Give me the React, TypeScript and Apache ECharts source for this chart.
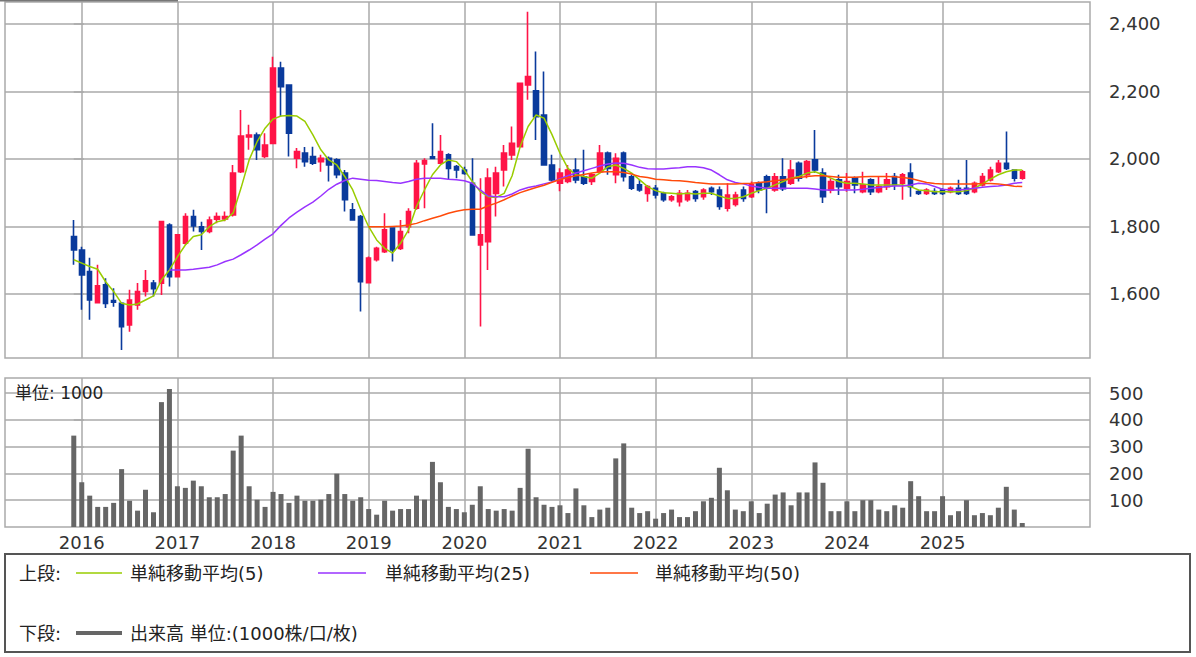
import React, { useEffect, useRef } from "react";
import * as echarts from "echarts";

// Monthly candles, index 0 = Dec 2015 ... index 119 = Nov 2025
const opens = [1770,1730,1666,1574,1627,1580,1572,1508,1567,1607,1632,1632,1804,1651,1750,1829,1799,1785,1821,1822,1834,1962,2065,2071,2007,2046,2269,2219,2002,2017,2007,1992,2002,1997,1958,1849,1829,1633,1701,1725,1795,1735,1799,1854,1985,2006,1987,2012,1977,1967,1928,1745,1755,1898,1967,2012,2036,2219,2202,2130,1982,1928,1933,1967,1947,1933,1962,2017,1953,2017,1947,1923,1898,1913,1898,1879,1873,1879,1903,1888,1913,1908,1854,1865,1908,1888,1928,1947,1908,1947,1928,1987,1953,1997,1958,1908,1938,1913,1943,1903,1938,1903,1918,1948,1928,1958,1903,1898,1903,1908,1903,1913,1913,1903,1923,1938,1962,1987,1967,1943];
const closes = [1730,1656,1582,1624,1572,1575,1503,1582,1607,1639,1615,1814,1651,1775,1829,1801,1785,1819,1829,1829,1958,2068,2071,2027,2041,2269,2214,2076,2022,1992,1987,2002,1982,1953,1879,1819,1636,1706,1735,1790,1730,1785,1844,1987,1995,2001,2022,1972,1967,1957,1775,1775,1943,1958,2017,2046,2224,2244,2125,1982,1938,1958,1967,1938,1928,1953,2017,1972,2002,1947,1913,1908,1918,1893,1879,1888,1898,1898,1883,1908,1903,1859,1893,1893,1883,1923,1908,1913,1947,1912,1967,1943,1992,1967,1888,1933,1918,1933,1923,1923,1903,1918,1938,1923,1953,1918,1898,1908,1898,1898,1913,1898,1898,1928,1948,1967,1987,1972,1943,1962];
const lows = [1686,1553,1523,1572,1558,1562,1434,1488,1553,1592,1592,1597,1622,1651,1745,1785,1730,1780,1809,1815,1829,1958,2027,1997,2002,2046,2125,2007,1972,1977,1982,1962,1933,1943,1844,1819,1548,1632,1696,1721,1696,1730,1780,1849,1854,2000,1987,1938,1943,1953,1775,1503,1671,1829,1918,1997,2036,2175,2056,1982,1933,1904,1928,1928,1923,1923,1962,1953,1928,1933,1908,1903,1873,1883,1873,1873,1859,1873,1873,1879,1893,1849,1844,1859,1873,1884,1898,1839,1903,1905,1923,1933,1943,1958,1869,1898,1893,1903,1898,1898,1893,1898,1908,1908,1879,1888,1893,1893,1893,1893,1898,1893,1893,1898,1918,1933,1958,1967,1933,1938];
const highs = [1819,1740,1707,1686,1646,1617,1575,1612,1632,1671,1641,1816,1809,1777,1839,1849,1814,1829,1841,1844,1982,2145,2101,2078,2076,2303,2288,2221,2032,2035,2036,2012,2007,2002,1967,1869,1834,1711,1740,1839,1797,1819,1854,1997,2002,2106,2071,2017,1982,1977,2002,1943,1972,1977,2041,2096,2226,2436,2318,2259,2012,1972,1982,2002,2027,1958,2041,2022,2017,2022,1953,1938,1923,1923,1903,1893,1908,1908,1908,1913,1918,1918,1928,1903,1918,1933,1933,1953,1958,2002,1997,1992,1997,2086,1972,1943,1953,1958,1948,1962,1943,1948,1958,1958,1958,1987,1908,1913,1913,1913,1918,1938,1997,1933,1958,1977,1997,2081,1967,1967];
const volumes = [341,167,117,75,75,90,216,98,61,139,55,466,515,152,146,173,152,111,111,123,285,341,152,102,75,131,123,90,117,98,98,102,123,199,123,98,111,67,46,98,61,67,67,117,102,243,167,75,67,55,83,152,67,61,67,61,146,292,111,83,75,81,52,144,81,37,65,72,256,312,72,52,59,31,52,65,37,37,59,96,109,221,137,65,59,96,52,87,121,129,81,129,129,241,165,59,59,96,59,100,100,65,59,81,72,171,115,59,59,115,44,59,100,44,52,44,72,150,65,15];
const ma5 = [1701,1691,1681,1673,1636,1607,1572,1567,1570,1582,1594,1641,1671,1710,1745,1770,1775,1799,1814,1819,1840,1915,1997,2051,2091,2118,2127,2129,2127,2111,2071,2027,1997,1982,1948,1908,1850,1799,1760,1735,1721,1750,1790,1859,1908,1953,1982,1997,1992,1967,1933,1903,1888,1886,1898,1950,2036,2096,2130,2121,2072,2017,1972,1953,1948,1943,1958,1977,1982,1972,1958,1938,1918,1906,1900,1898,1896,1898,1896,1898,1898,1890,1883,1883,1888,1898,1906,1913,1923,1933,1943,1948,1958,1962,1953,1943,1933,1928,1928,1926,1923,1923,1923,1923,1923,1918,1908,1906,1903,1903,1903,1903,1906,1913,1926,1940,1953,1962,1967,1967];
const ma25Start = 12;
const ma25 = [1671,1671,1671,1673,1676,1679,1686,1696,1703,1716,1730,1745,1762,1778,1803,1825,1842,1858,1872,1890,1910,1925,1936,1943,1940,1937,1936,1933,1930,1928,1933,1940,1943,1943,1943,1940,1938,1935,1928,1908,1890,1888,1888,1896,1908,1915,1920,1926,1932,1941,1950,1958,1965,1972,1979,1985,1988,1987,1982,1975,1971,1970,1970,1972,1974,1977,1977,1974,1967,1953,1938,1930,1926,1920,1916,1913,1913,1913,1913,1913,1913,1911,1908,1908,1908,1908,1908,1910,1913,1915,1918,1920,1920,1923,1928,1926,1918,1910,1908,1908,1910,1913,1916,1918,1920,1923,1928,1930];
const ma50Start = 37;
const ma50 = [1799,1799,1799,1800,1801,1804,1809,1817,1824,1831,1839,1845,1849,1851,1851,1861,1869,1879,1890,1900,1908,1915,1922,1931,1939,1945,1950,1954,1958,1961,1962,1962,1960,1955,1948,1945,1940,1938,1936,1935,1933,1930,1928,1926,1926,1926,1926,1927,1928,1930,1932,1935,1938,1941,1945,1948,1950,1950,1948,1946,1946,1946,1947,1948,1948,1948,1947,1945,1942,1936,1930,1927,1926,1926,1926,1926,1926,1927,1927,1926,1923,1919,1918];
const yearLabels = ["2016","2017","2018","2019","2020","2021","2022","2023","2024","2025"];
const januaryIndex = [1,13,25,37,49,61,73,85,97,109];
const priceTicks = [1600,1800,2000,2200,2400];
const volumeTicks = [100,200,300,400,500];

const UP = "#ff1447";
const DOWN = "#0a3a9c";
const GREEN = "#99cc00";
const PURPLE = "#9933ff";
const ORANGE = "#ff4a0a";
const GRID = "#aaaaaa";
const FONT = "DejaVu Sans, Noto Sans CJK JP, sans-serif";
const XMIN = -8.63;
const XMAX = 127.5;

function fmtThousands(v: number) {
  return String(v).replace(/\B(?=(\d{3})+(?!\d))/g, ",");
}

export default function App() {
  const ref = useRef<HTMLDivElement>(null);
  useEffect(() => {
    if (!ref.current) return;
    const chart = echarts.init(ref.current, undefined, { renderer: "svg" });
    const candleData = opens.map((o, i) => [i, o, closes[i], lows[i], highs[i]]);
    const volData = volumes.map((v, i) => [i, v]);
    const ma5Data = ma5.map((v, i) => [i, v]);
    const ma25Data = ma25.map((v, i) => [i + ma25Start, v]);
    const ma50Data = ma50.map((v, i) => [i + ma50Start, v]);
    const yearFmt = (v: number) => {
      const k = januaryIndex.indexOf(Math.round(v));
      return k >= 0 ? yearLabels[k] : "";
    };
    const splitLine = { show: true, lineStyle: { color: GRID, width: 1.5 } };
    const textBase = { fontFamily: FONT, fill: "#222", verticalAlign: "middle" as const };
    const LF = 18;
    const option: any = {
      animation: false,
      backgroundColor: "#ffffff",
      textStyle: { fontFamily: FONT },
      grid: [
        { left: 5, top: 2, width: 1085, height: 356, show: true, borderColor: GRID, borderWidth: 1.5, backgroundColor: "#fff" },
        { left: 5, top: 378, width: 1085, height: 149, show: true, borderColor: GRID, borderWidth: 1.5, backgroundColor: "#fff" },
      ],
      xAxis: [
        {
          type: "value", gridIndex: 0, min: XMIN, max: XMAX,
          axisLine: { show: false },
          axisTick: { show: false, customValues: januaryIndex },
          axisLabel: { show: false, customValues: januaryIndex },
          splitLine,
        },
        {
          type: "value", gridIndex: 1, min: XMIN, max: XMAX,
          axisLine: { show: false },
          axisTick: { show: false, customValues: januaryIndex },
          axisLabel: { show: true, customValues: januaryIndex, formatter: yearFmt, fontSize: 18, color: "#333", margin: 6, fontFamily: FONT },
          splitLine,
        },
      ],
      yAxis: [
        {
          type: "value", gridIndex: 0, position: "right", min: 1410, max: 2465,
          axisLine: { show: false },
          axisTick: { show: true, length: 10, inside: false, customValues: priceTicks, lineStyle: { color: GRID, width: 1.5 } },
          axisLabel: { customValues: priceTicks, formatter: (v: number) => fmtThousands(v), fontSize: 18, color: "#333", margin: 19, fontFamily: FONT },
          splitLine,
        },
        {
          type: "value", gridIndex: 1, position: "right", min: 0, max: 556,
          axisLine: { show: false },
          axisTick: { show: true, length: 10, inside: false, customValues: volumeTicks, lineStyle: { color: GRID, width: 1.5 } },
          axisLabel: { customValues: volumeTicks, fontSize: 18, color: "#333", margin: 19, fontFamily: FONT },
          splitLine,
        },
      ],
      series: [
        {
          type: "candlestick", xAxisIndex: 0, yAxisIndex: 0, data: candleData,
          encode: { x: 0, y: [1, 2, 3, 4] },
          barWidth: 5,
          itemStyle: { color: UP, color0: DOWN, borderColor: UP, borderColor0: DOWN, borderWidth: 1.6 },
          z: 3,
        },
        { type: "line", xAxisIndex: 0, yAxisIndex: 0, data: ma5Data, showSymbol: false, lineStyle: { color: GREEN, width: 1.5 }, z: 4 },
        { type: "line", xAxisIndex: 0, yAxisIndex: 0, data: ma25Data, showSymbol: false, lineStyle: { color: PURPLE, width: 1.5 }, z: 4 },
        { type: "line", xAxisIndex: 0, yAxisIndex: 0, data: ma50Data, showSymbol: false, lineStyle: { color: ORANGE, width: 1.5 }, z: 4 },
        {
          type: "bar", xAxisIndex: 1, yAxisIndex: 1, data: volData, barWidth: 5,
          itemStyle: { color: "#666666" }, z: 3,
        },
      ],
      graphic: [
        { type: "line", shape: { x1: 0, y1: 0.5, x2: 178, y2: 0.5 }, style: { stroke: "#777", lineWidth: 2 }, z: 20 },
        { type: "text", x: 15, y: 393, style: { ...textBase, text: "単位: 1000", fontSize: 17 }, z: 20 },
        { type: "rect", shape: { x: 5, y: 554, width: 1185, height: 98 }, style: { fill: "none", stroke: "#555", lineWidth: 2 }, z: 20 },
        { type: "text", x: 19, y: 573, style: { ...textBase, text: "上段:", fontSize: LF }, z: 20 },
        { type: "line", shape: { x1: 76, y1: 573, x2: 122, y2: 573 }, style: { stroke: GREEN, lineWidth: 1.5 }, z: 20 },
        { type: "text", x: 130, y: 573, style: { ...textBase, text: "単純移動平均(5)", fontSize: LF }, z: 20 },
        { type: "line", shape: { x1: 318, y1: 573, x2: 366, y2: 573 }, style: { stroke: PURPLE, lineWidth: 1.5 }, z: 20 },
        { type: "text", x: 385, y: 573, style: { ...textBase, text: "単純移動平均(25)", fontSize: LF }, z: 20 },
        { type: "line", shape: { x1: 590, y1: 573, x2: 638, y2: 573 }, style: { stroke: ORANGE, lineWidth: 1.5 }, z: 20 },
        { type: "text", x: 655, y: 573, style: { ...textBase, text: "単純移動平均(50)", fontSize: LF }, z: 20 },
        { type: "text", x: 19, y: 633, style: { ...textBase, text: "下段:", fontSize: LF }, z: 20 },
        { type: "line", shape: { x1: 76, y1: 633, x2: 122, y2: 633 }, style: { stroke: "#666", lineWidth: 4 }, z: 20 },
        { type: "text", x: 130, y: 633, style: { ...textBase, text: "出来高 単位:(1000株/口/枚)", fontSize: LF }, z: 20 },
      ],
    };
    chart.setOption(option);
    return () => chart.dispose();
  }, []);
  return (
    <div
      ref={ref}
      style={{ position: "absolute", left: 0, top: 0, width: 1196, height: 657, background: "#fff" }}
    />
  );
}
